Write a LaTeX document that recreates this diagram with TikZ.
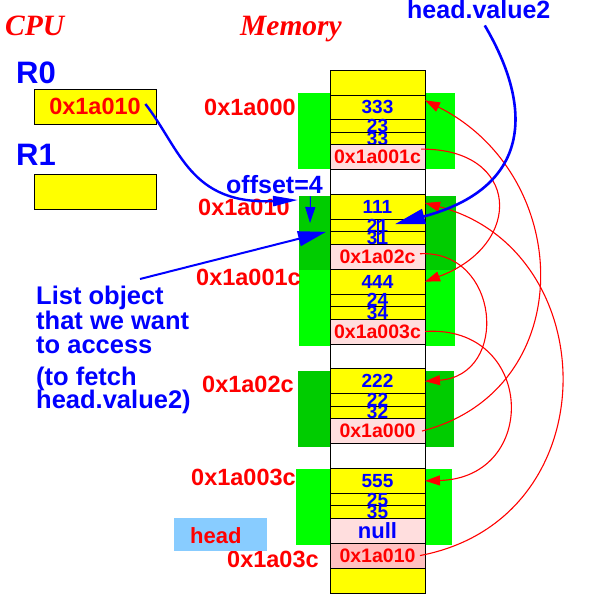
\documentclass[tikz,border=0pt]{standalone}
\usepackage{fontspec}
\setmainfont{Liberation Sans}
\newfontfamily\cpuserif{Liberation Serif}
\usetikzlibrary{arrows.meta}
\definecolor{gbright}{RGB}{0,255,0}
\definecolor{gdark}{RGB}{0,204,0}
\definecolor{pinkc}{RGB}{255,222,222}
\definecolor{pinkd}{RGB}{255,192,192}
\definecolor{headblue}{RGB}{136,204,255}
\definecolor{myblue}{RGB}{0,0,255}
\definecolor{myred}{RGB}{255,0,0}
\definecolor{myyellow}{RGB}{255,255,0}
\begin{document}
\begin{tikzpicture}[x=1pt,y=-1pt,
  cellbox/.style={draw=black, line width=0.8pt, minimum width=95pt, inner sep=0pt, outer sep=0pt, anchor=north west},
  bigrow/.style={cellbox, minimum height=24.9pt},
  smallrow/.style={cellbox, minimum height=12.45pt, fill=myyellow},
  valrow/.style={bigrow, fill=myyellow, font=\fontsize{19}{19}\selectfont\bfseries, text=myblue},
  ptrrow/.style={bigrow, fill=pinkc, font=\fontsize{19.5}{19.5}\selectfont\bfseries, text=myred},
  smallval/.style={font=\fontsize{19}{19}\selectfont\bfseries, text=myblue, inner sep=0pt},
  addr/.style={font=\fontsize{23.5}{23.5}\selectfont\bfseries, text=myred, inner sep=0pt, anchor=base west},
  bluetxt/.style={font=\fontsize{25.5}{25.5}\selectfont\bfseries, text=myblue, inner sep=0pt, anchor=base west},
  regname/.style={font=\fontsize{31}{31}\selectfont\bfseries, text=myblue, inner sep=0pt, anchor=base west},
  titletxt/.style={font=\cpuserif\fontsize{29.5}{29.5}\selectfont\bfseries\itshape, text=myred, inner sep=0pt, anchor=base west},
  regbox/.style={draw=black, line width=0.8pt, fill=myyellow, minimum width=122pt, minimum height=35pt, inner sep=0pt, font=\fontsize{23.5}{23.5}\selectfont\bfseries, text=myred},
  redarrow/.style={draw=myred, line width=1.1pt, -{Triangle[length=15pt,width=10pt]}},
]
\useasboundingbox (0,0) rectangle (592,605);

% titles
\node[titletxt] (cpu) at (5,35) {CPU};
\node[titletxt] (mem) at (240,35) {Memory};

% registers
\node[regname] (r0name) at (16,83) {R0};
\node[regbox] (r0) at (95,106.5) {0x1a010};
\node[regname] (r1name) at (16,165) {R1};
\node[regbox] (r1) at (95,191.5) {};

% green node backgrounds
\fill[gbright] (298,93) rectangle (455,169);
\fill[gdark] (299,196) rectangle (456,270);
\fill[gbright] (299,270) rectangle (455,346);
\fill[gdark] (298,371) rectangle (454,447);
\fill[gbright] (296,469) rectangle (452,545);

% memory column
\node[bigrow, fill=myyellow] (mtop) at (330,70) {};
\node[valrow] (v333) at (330,94.9) {333};
\node[smallrow, label={[smallval]center:23}] (v23) at (330,119.8) {};
\node[smallrow, label={[smallval]center:33}] (v33) at (330,132.25) {};
\node[ptrrow] (p001c) at (330,144.7) {0x1a001c};
\node[bigrow, fill=white] (w1) at (330,169.6) {};
\node[valrow] (v111) at (330,194.5) {111};
\node[smallrow, label={[smallval]center:21}] (v21) at (330,219.4) {};
\node[smallrow, label={[smallval]center:31}] (v31) at (330,231.85) {};
\node[ptrrow] (p02c) at (330,244.3) {0x1a02c};
\node[valrow] (v444) at (330,269.2) {444};
\node[smallrow, label={[smallval]center:24}] (v24) at (330,294.1) {};
\node[smallrow, label={[smallval]center:34}] (v34) at (330,306.55) {};
\node[ptrrow] (p003c) at (330,319.0) {0x1a003c};
\node[bigrow, fill=white] (w2) at (330,343.9) {};
\node[valrow] (v222) at (330,368.8) {222};
\node[smallrow, label={[smallval]center:22}] (v22) at (330,393.7) {};
\node[smallrow, label={[smallval]center:32}] (v32) at (330,406.15) {};
\node[ptrrow] (p000) at (330,418.6) {0x1a000};
\node[bigrow, fill=white] (w3) at (330,443.5) {};
\node[valrow] (v555) at (330,468.4) {555};
\node[smallrow, label={[smallval]center:25}] (v25) at (330,493.3) {};
\node[smallrow, label={[smallval]center:35}] (v35) at (330,505.75) {};
\node[bigrow, fill=pinkc, font=\fontsize{22}{22}\selectfont\bfseries, text=myblue] (vnull) at (330,518.2) {null};
\node[ptrrow, fill=pinkd] (p010) at (330,543.1) {0x1a010};
\node[bigrow, fill=myyellow] (mbot) at (330,568.0) {};
\draw[myblue, line width=1.3pt] (378,219.5) -- (378,244);

% addresses
\node[addr] (a000) at (204,115) {0x1a000};
\node[addr] (a010) at (198,215) {0x1a010};
\node[addr] (a01c) at (196,285) {0x1a001c};
\node[addr] (a02c) at (202,392) {0x1a02c};
\node[addr] (a03c) at (191,485) {0x1a003c};
\node[addr] (a03cb) at (227,567) {0x1a03c};

% head variable
\node[fill=headblue, minimum width=93pt, minimum height=33pt, inner sep=0pt, anchor=north west] (headbox) at (174,518) {};
\node[addr, font=\fontsize{22}{22}\selectfont\bfseries] (headtxt) at (190,543) {head};

% blue texts
\node[bluetxt] (l1) at (36,304) {List object};
\node[bluetxt] (l2) at (36,329) {that we want};
\node[bluetxt] (l3) at (36,353) {to access};
\node[bluetxt] (l4) at (36,385) {(to fetch};
\node[bluetxt] (l5) at (36,408) {head.value2)};
\node[bluetxt, font=\fontsize{25}{25}\selectfont\bfseries] (off) at (226,193) {offset=4};
\node[bluetxt, font=\fontsize{25}{25}\selectfont\bfseries] (hv) at (407,19) {head.value2};
\coordinate (lstart) at (140,279);

% red pointer arrows
\draw[redarrow] ([xshift=-4pt,yshift=8pt]p001c.east) .. controls +(99,-1) and +(100,-37) .. (v444.east);
\draw[redarrow] ([xshift=-5pt,yshift=3pt]p02c.east) .. controls +(80,-4) and +(85,-6) .. (v222.east);
\draw[redarrow] (p003c.east) .. controls +(110,-7) and +(115,-3) .. (v555.east);
\draw[redarrow] ([xshift=-3pt]p000.east) .. controls +(158,-41) and +(150,75) .. ([yshift=7pt]v333.east);
\draw[redarrow] ([xshift=-5pt]p010.east) .. controls +(190,-36) and +(180,47) .. ([yshift=4pt]v111.east);

% blue arrows
\draw[myblue, line width=2.4pt, -{Triangle[length=25pt,width=10pt]}] ([xshift=-11pt,yshift=2.5pt]r0.east) .. controls +(35,45) and +(-108,5) .. ([xshift=-32pt,yshift=7pt]v111.west);
\draw[myblue, line width=1pt, -{Triangle[length=16pt,width=10pt]}] ([xshift=36pt,yshift=-3pt]off.south) -- ([xshift=-20pt,yshift=2.6pt]v21.west);
\draw[myblue, line width=2pt, -{Triangle[length=28pt,width=15pt]}] (lstart) -- ([xshift=-4pt]v21.south west);
\draw[myblue, line width=2.6pt, -{Triangle[length=30pt,width=15pt]}] ([xshift=6pt,yshift=-6pt]hv.south) .. controls +(50,85) and +(135,-36) .. ([xshift=17.5pt,yshift=1.5pt]v21.center);
\end{tikzpicture}
\end{document}
